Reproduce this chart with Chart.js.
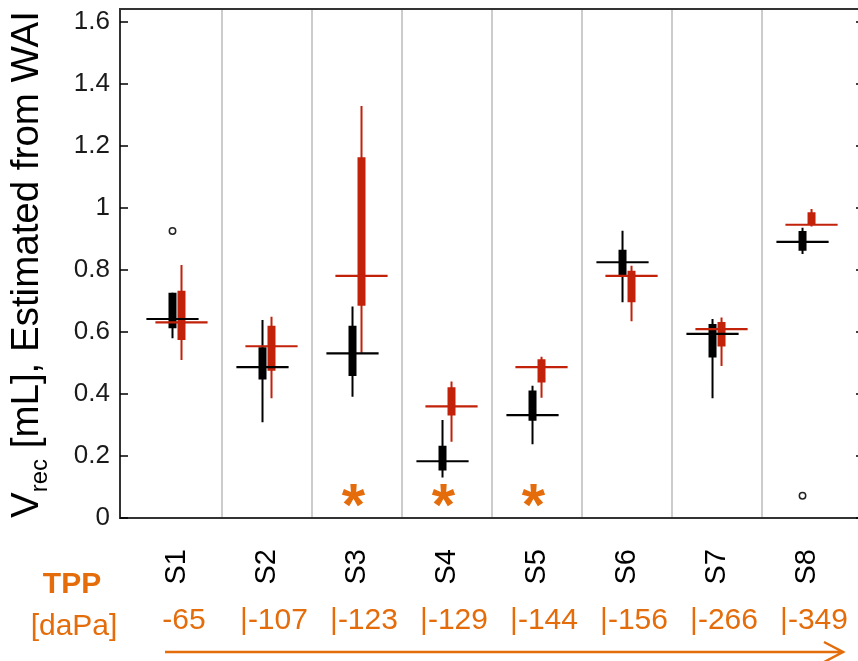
<!DOCTYPE html>
<html>
<head>
<meta charset="utf-8">
<script src="https://cdn.jsdelivr.net/npm/chart.js@4.4.1/dist/chart.umd.min.js"></script>
<style>
  html, body { margin: 0; padding: 0; overflow: hidden; background: #fff; }
  #wrap { width: 870px; height: 661px; }
</style>
</head>
<body>
<div id="wrap"><canvas id="volChart" width="870" height="661"></canvas></div>
<script>
// subjects, ordered by tympanometric peak pressure
const subjects  = ['S1', 'S2', 'S3', 'S4', 'S5', 'S6', 'S7', 'S8'];
const tppLabels = ['-65', '|-107', '|-123', '|-129', '|-144', '|-156', '|-266', '|-349'];
const yTicks    = [0, 0.2, 0.4, 0.6, 0.8, 1, 1.2, 1.4, 1.6];

// black boxes: ambient pressure (whisker low, q1, median, q3, whisker high)
const ambLow  = [0.580, 0.309, 0.391, 0.131, 0.238, 0.696, 0.386, 0.852];
const ambQ1   = [0.612, 0.447, 0.458, 0.153, 0.314, 0.784, 0.518, 0.862];
const ambMed  = [0.642, 0.487, 0.531, 0.183, 0.332, 0.825, 0.594, 0.891];
const ambQ3   = [0.727, 0.551, 0.620, 0.233, 0.411, 0.865, 0.626, 0.926];
const ambHigh = [0.727, 0.639, 0.682, 0.316, 0.427, 0.927, 0.642, 0.936];
const ambOutliers = [[1, 0.926], [8, 0.072]];

// red boxes: ear canal pressurized to TPP
const tppLow  = [0.510, 0.386, 0.533, 0.246, 0.388, 0.635, 0.490, 0.940];
const tppQ1   = [0.574, 0.475, 0.685, 0.331, 0.437, 0.696, 0.553, 0.945];
const tppMed  = [0.631, 0.554, 0.781, 0.360, 0.487, 0.781, 0.609, 0.946];
const tppQ3   = [0.733, 0.620, 1.164, 0.422, 0.512, 0.798, 0.632, 0.986];
const tppHigh = [0.816, 0.649, 1.329, 0.440, 0.520, 0.814, 0.647, 0.997];

// subjects with a significant change
const starred = [3, 4, 5];
const starLevel = 0.068;

const BLACK = '#000000';
const RED = '#C2210A';
const ORANGE = '#E46C0A';
const FONT = "'Liberation Sans', Arial, sans-serif";

Chart.defaults.font.family = FONT;

// one dataset per mark type; null points split it into separate segments
function segments(list) {
  const pts = [];
  list.forEach(s => {
    pts.push({ x: s[0], y: s[1] }, { x: s[2], y: s[3] }, { x: s[2], y: null });
  });
  return pts;
}

function boxSet(low, q1, med, q3, high, color, off) {
  const xs = subjects.map((s, i) => i + 1 + off);
  return [
    {
      data: segments(xs.map((x, i) => [x - 0.29, med[i], x + 0.29, med[i]])),
      borderColor: color, borderWidth: 2.2, order: 0
    },
    {
      data: segments(xs.map((x, i) => [x, q1[i], x, q3[i]])),
      borderColor: color, borderWidth: 8, order: 1
    },
    {
      data: segments(xs.map((x, i) => [x, low[i], x, high[i]])),
      borderColor: color, borderWidth: 2, order: 2
    }
  ].map(d => Object.assign(d, { showLine: true, spanGaps: false, pointRadius: 0, borderCapStyle: 'butt' }));
}

const xTickValues = subjects.flatMap((s, i) => i < subjects.length - 1 ? [i + 1, i + 1.5] : [i + 1]);

const datasets = [
  ...boxSet(ambLow, ambQ1, ambMed, ambQ3, ambHigh, BLACK, -0.05),
  ...boxSet(tppLow, tppQ1, tppMed, tppQ3, tppHigh, RED, 0.05),
  {
    data: ambOutliers.map(o => ({ x: o[0] - 0.05, y: o[1] })),
    showLine: false, pointRadius: 3.2, pointBorderWidth: 1.5,
    pointBackgroundColor: '#fff', pointBorderColor: '#222', order: 0
  }
];

// keep the plot area fixed: no extra room for overhanging labels
function noOverhang(s) {
  s.paddingTop = 0; s.paddingBottom = 0; s.paddingLeft = 0; s.paddingRight = 0;
}

const extras = {
  id: 'extras',
  afterDraw(chart) {
    const ctx = chart.ctx;
    const xs = chart.scales.x, ys = chart.scales.y;
    const { left, top, right, bottom } = chart.chartArea;
    ctx.save();

    // plot frame with inward ticks
    ctx.strokeStyle = '#333';
    ctx.lineWidth = 2;
    ctx.strokeRect(left, top, right - left, bottom - top);
    ctx.strokeStyle = '#000';
    ctx.lineWidth = 1.5;
    yTicks.forEach(v => {
      const y = ys.getPixelForValue(v);
      ctx.beginPath();
      ctx.moveTo(left, y); ctx.lineTo(left + 8, y);
      ctx.moveTo(right - 8, y); ctx.lineTo(right, y);
      ctx.stroke();
    });

    // asterisks
    ctx.fillStyle = ORANGE;
    ctx.font = 'bold 60px ' + FONT;
    ctx.textAlign = 'center';
    ctx.textBaseline = 'alphabetic';
    starred.forEach(s => {
      ctx.fillText('*', xs.getPixelForValue(s - 0.04), ys.getPixelForValue(starLevel) + 28);
    });

    // y axis title with subscript
    ctx.translate(38, 518);
    ctx.rotate(-Math.PI / 2);
    ctx.fillStyle = '#000';
    ctx.textAlign = 'left';
    ctx.font = '38.5px ' + FONT;
    ctx.fillText('V', 0, 0);
    let w = ctx.measureText('V').width;
    ctx.font = '24px ' + FONT;
    ctx.fillText('rec', w, 9);
    w += ctx.measureText('rec').width;
    ctx.font = '38.5px ' + FONT;
    ctx.fillText(' [mL], Estimated from WAI', w, 0);
    ctx.setTransform(1, 0, 0, 1, 0, 0);

    // TPP row under the subject labels
    ctx.fillStyle = ORANGE;
    ctx.textAlign = 'center';
    ctx.textBaseline = 'middle';
    ctx.font = 'bold 30px ' + FONT;
    ctx.fillText('TPP', 72, 585);
    ctx.font = '30px ' + FONT;
    ctx.fillText('[daPa]', 74, 627);
    tppLabels.forEach((t, i) => {
      ctx.fillText(t, xs.getPixelForValue(i + 1) + 7, 621);
    });

    // arrow towards more negative TPP
    ctx.strokeStyle = ORANGE;
    ctx.lineWidth = 2.5;
    ctx.beginPath();
    ctx.moveTo(165, 652); ctx.lineTo(843, 652);
    ctx.moveTo(824, 642); ctx.lineTo(843, 652); ctx.lineTo(824, 662);
    ctx.stroke();
    ctx.restore();
  }
};

new Chart(document.getElementById('volChart'), {
  type: 'scatter',
  data: { datasets },
  options: {
    responsive: false,
    animation: false,
    layout: { padding: { left: 0, top: 9, right: 6, bottom: 0 } },
    plugins: { legend: { display: false }, tooltip: { enabled: false } },
    scales: {
      x: {
        type: 'linear',
        min: 0.3667,
        max: 8.633,
        afterBuildTicks: s => { s.ticks = xTickValues.map(v => ({ value: v })); },
        afterFit: s => { s.height = 143; noOverhang(s); },
        ticks: {
          autoSkip: false, minRotation: 90, maxRotation: 90, padding: 31,
          color: '#000', font: { size: 29 },
          callback: v => Number.isInteger(v) ? subjects[v - 1] : ''
        },
        grid: {
          drawTicks: false, lineWidth: 2,
          color: c => Number.isInteger(c.tick.value) ? 'rgba(0,0,0,0)' : '#cccccc'
        },
        border: { display: false }
      },
      y: {
        min: 0,
        max: 1.642,
        afterBuildTicks: s => { s.ticks = yTicks.map(v => ({ value: v })); },
        afterFit: s => { s.width = 120; noOverhang(s); },
        ticks: { padding: 10, color: '#1a1a1a', font: { size: 26 }, callback: v => String(v) },
        grid: { drawOnChartArea: false, drawTicks: false },
        border: { display: false }
      }
    }
  },
  plugins: [extras]
});
</script>
</body>
</html>
